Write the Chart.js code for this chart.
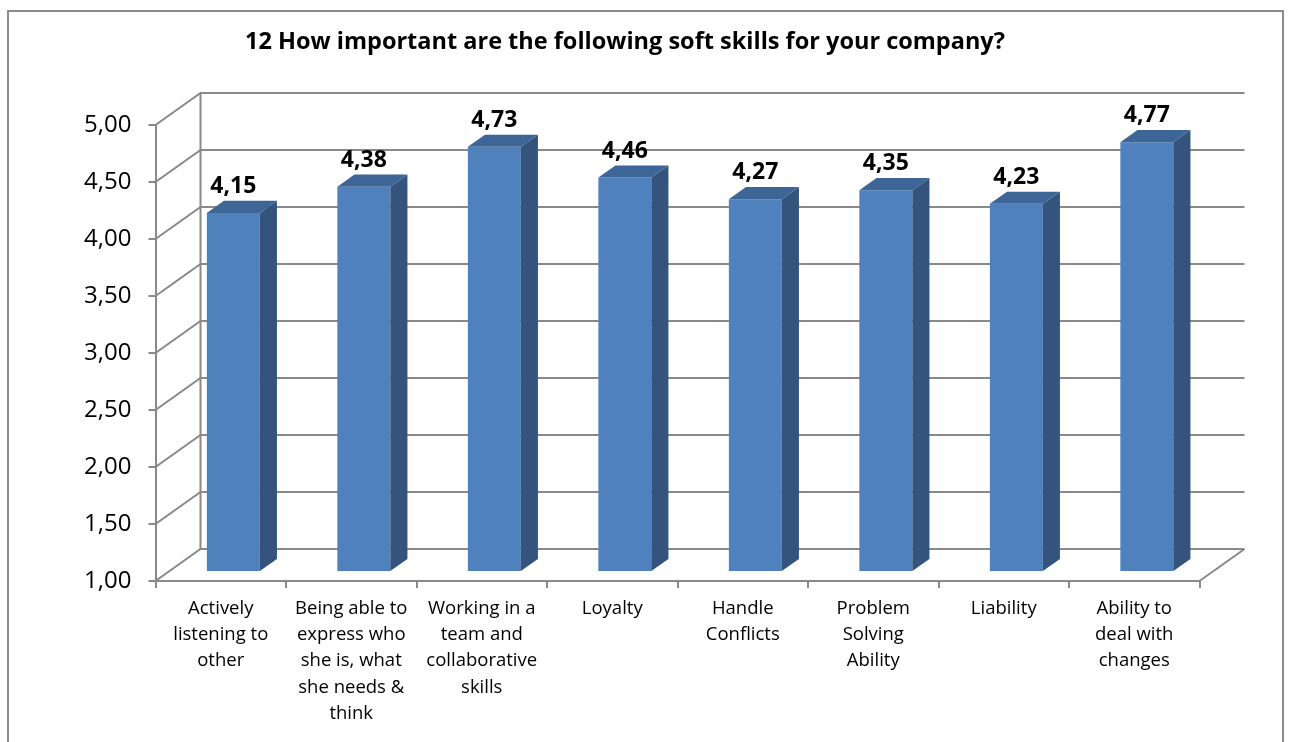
<!DOCTYPE html>
<html>
<head>
<meta charset="utf-8">
<title>Soft skills</title>
<script src="https://cdn.jsdelivr.net/npm/chart.js@4.4.1/dist/chart.umd.min.js"></script>
<style>
  html, body { margin: 0; padding: 0; background: #fff; overflow: hidden; }
  #frame {
    position: absolute; left: 7px; top: 10px; width: 1277px; height: 800px;
    border: 2px solid #8c8c8c; box-sizing: border-box;
  }
  #wrap { position: absolute; left: 0; top: 0; width: 1291px; height: 742px; }
</style>
</head>
<body>
<div id="frame"></div>
<div id="wrap"><canvas id="chart" width="1291" height="742"></canvas></div>
<script>
const chartTitle = '12 How important are the following soft skills for your company?';

const skills = [
  ['Actively', 'listening to', 'other'],
  ['Being able to', 'express who', 'she is, what', 'she needs &', 'think'],
  ['Working in a', 'team and', 'collaborative', 'skills'],
  ['Loyalty'],
  ['Handle', 'Conflicts'],
  ['Problem', 'Solving', 'Ability'],
  ['Liability'],
  ['Ability to', 'deal with', 'changes']
];

const averages = [4.15, 4.38, 4.73, 4.46, 4.27, 4.35, 4.23, 4.77];

const scaleTicks = [1, 1.5, 2, 2.5, 3, 3.5, 4, 4.5, 5];

// 3D look: back wall offset and where the bars sit between front and back
const WALL_DX = 45;
const WALL_DY = -32;
const BAR_NEAR = 0.28;
const BAR_FAR = 0.66;

const GRID = '#898989';
const FACE = '#4f81bd';
const SIDE = '#34547e';
const TOP = '#3d6595';
const FONT = "'Open Sans', sans-serif";

const comma = v => v.toFixed(2).replace('.', ',');

const wall3d = {
  id: 'wall3d',
  beforeDatasetsDraw(chart) {
    const { ctx, chartArea: a, scales: { y } } = chart;
    ctx.save();
    ctx.strokeStyle = GRID;
    ctx.lineWidth = 2;
    y.ticks.forEach(t => {
      const py = y.getPixelForValue(t.value);
      ctx.beginPath();
      ctx.moveTo(a.left, py);
      ctx.lineTo(a.left + WALL_DX, py + WALL_DY);
      ctx.lineTo(a.right + WALL_DX, py + WALL_DY);
      ctx.stroke();
    });
    // back left edge and floor right edge
    ctx.beginPath();
    ctx.moveTo(a.left + WALL_DX, a.top + WALL_DY);
    ctx.lineTo(a.left + WALL_DX, a.bottom + WALL_DY);
    ctx.moveTo(a.right, a.bottom);
    ctx.lineTo(a.right + WALL_DX, a.bottom + WALL_DY);
    ctx.stroke();
    ctx.restore();

    // front faces are drawn by chart.js, pushed back into the floor
    ctx.save();
    ctx.translate(WALL_DX * BAR_NEAR, WALL_DY * BAR_NEAR);
  },
  afterDatasetsDraw(chart) {
    const { ctx } = chart;
    ctx.restore();

    const fx = WALL_DX * BAR_NEAR, fy = WALL_DY * BAR_NEAR;
    const dx = WALL_DX * (BAR_FAR - BAR_NEAR), dy = WALL_DY * (BAR_FAR - BAR_NEAR);
    const meta = chart.getDatasetMeta(0);

    ctx.save();
    meta.data.forEach((bar, i) => {
      const { x, y, base, width } = bar.getProps(['x', 'y', 'base', 'width'], true);
      const left = x - width / 2 + fx;
      const right = x + width / 2 + fx;
      const top = y + fy;
      const bottom = base + fy;

      ctx.fillStyle = SIDE;
      ctx.beginPath();
      ctx.moveTo(right, top);
      ctx.lineTo(right + dx, top + dy);
      ctx.lineTo(right + dx, bottom + dy);
      ctx.lineTo(right, bottom);
      ctx.closePath();
      ctx.fill();

      ctx.fillStyle = TOP;
      ctx.beginPath();
      ctx.moveTo(left, top);
      ctx.lineTo(left + dx, top + dy);
      ctx.lineTo(right + dx, top + dy);
      ctx.lineTo(right, top);
      ctx.closePath();
      ctx.fill();

      ctx.fillStyle = '#000';
      ctx.font = `bold 23px ${FONT}`;
      ctx.textAlign = 'center';
      ctx.textBaseline = 'alphabetic';
      ctx.fillText(comma(averages[i]), x + fx, top - 20);
    });
    ctx.restore();
  },
  afterDraw(chart) {
    const { ctx } = chart;
    ctx.save();
    ctx.fillStyle = '#000';
    ctx.font = `bold 23.5px ${FONT}`;
    ctx.textAlign = 'center';
    ctx.textBaseline = 'middle';
    ctx.fillText(chartTitle, 625, 42);
    ctx.restore();
  }
};

new Chart(document.getElementById('chart'), {
  type: 'bar',
  data: {
    labels: skills,
    datasets: [{
      data: averages,
      base: 1,
      backgroundColor: FACE,
      borderWidth: 0,
      categoryPercentage: 1,
      barPercentage: 0.406
    }]
  },
  options: {
    responsive: false,
    animation: false,
    layout: { padding: { top: 125, right: 91.5, left: 0, bottom: 0 } },
    plugins: {
      legend: { display: false },
      tooltip: { enabled: false },
      title: { display: false }
    },
    scales: {
      x: {
        grid: { offset: true, drawOnChartArea: false, tickLength: 7, color: GRID, lineWidth: 2 },
        border: { color: GRID, width: 2 },
        ticks: {
          color: '#000',
          padding: 8,
          maxRotation: 0,
          autoSkip: false,
          font: { family: FONT, size: 18.5, lineHeight: 1.41 }
        },
        afterFit: s => { s.height = 161; }
      },
      y: {
        min: 1,
        max: 5,
        afterBuildTicks: s => { s.ticks = scaleTicks.map(v => ({ value: v })); },
        grid: { drawOnChartArea: false, tickLength: 7, color: GRID, lineWidth: 2 },
        border: { color: GRID, width: 2 },
        ticks: {
          color: '#000',
          padding: 17,
          callback: v => comma(v),
          font: { family: FONT, size: 24 }
        },
        afterFit: s => { s.width = 155.5; }
      }
    }
  },
  plugins: [wall3d]
});
</script>
</body>
</html>
